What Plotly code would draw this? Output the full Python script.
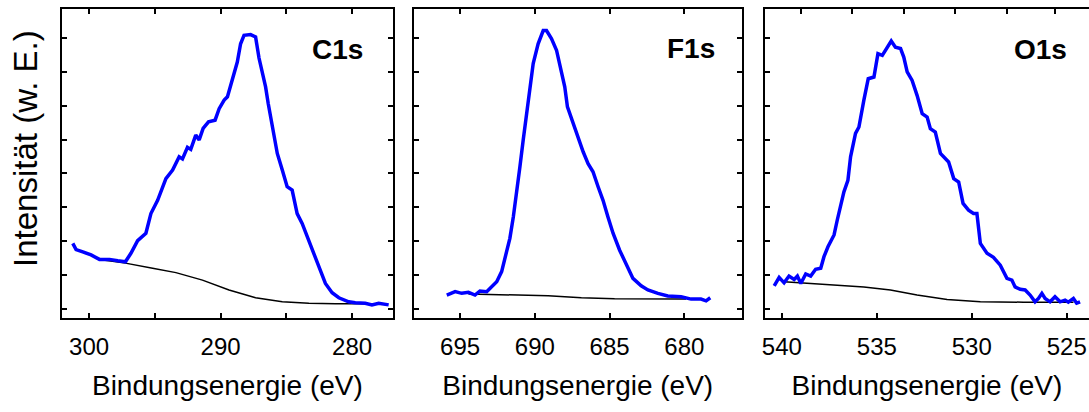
import plotly.graph_objects as go

# ---------------- data (binding energy eV, intensity arb. units) ----------------
c1s_x = [301.24, 300.99, 300.48, 299.85, 299.21, 298.45, 297.82, 297.24, 296.82, 296.31,
         295.68, 295.30, 294.79, 294.16, 293.65, 293.15, 292.90, 292.52, 292.27, 291.89,
         291.63, 291.33, 290.92, 290.42, 290.11, 289.73, 289.48, 289.23, 288.98, 288.73,
         288.48, 288.22, 287.72, 287.34, 287.08, 286.83, 286.58, 286.38, 286.07, 285.69,
         285.31, 284.94, 284.56, 284.18, 283.80, 283.29, 282.91, 282.53, 282.03, 281.52,
         281.01, 280.26, 279.76, 279.00, 278.49, 277.98, 277.22]
c1s_y = [1.94, 1.76, 1.69, 1.60, 1.47, 1.47, 1.43, 1.40, 1.65, 2.02,
         2.24, 2.82, 3.21, 3.85, 4.10, 4.49, 4.43, 4.77, 4.71, 5.13,
         4.99, 5.33, 5.52, 5.57, 5.91, 6.16, 6.26, 6.60, 6.89, 7.28,
         7.82, 8.07, 8.09, 8.02, 7.40, 6.99, 6.55, 6.06, 5.37, 4.59,
         4.10, 3.61, 3.51, 2.82, 2.53, 2.04, 1.65, 1.25, 0.76, 0.49,
         0.34, 0.22, 0.19, 0.18, 0.13, 0.18, 0.13]
c1s_bg_x = [299.21, 297.24, 295.17, 293.40, 291.38, 289.36, 287.34, 285.31, 283.29, 281.27, 278.49]
c1s_bg_y = [1.47, 1.36, 1.21, 1.08, 0.86, 0.57, 0.34, 0.22, 0.18, 0.16, 0.16]

f1s_x = [695.89, 695.33, 694.89, 694.44, 694.00, 693.67, 693.22, 692.89, 692.55, 692.22,
         691.89, 691.67, 691.44, 691.22, 691.00, 690.78, 690.55, 690.40, 690.11, 689.78,
         689.44, 689.22, 688.89, 688.55, 688.22, 688.00, 687.82, 687.44, 687.11, 686.77,
         686.44, 686.11, 685.77, 685.44, 685.11, 684.77, 684.33, 683.89, 683.44, 682.89,
         682.44, 681.77, 681.11, 680.22, 679.55, 678.89, 678.55, 678.27]
f1s_y = [0.42, 0.52, 0.47, 0.50, 0.42, 0.54, 0.52, 0.66, 0.81, 1.11,
         1.65, 2.09, 2.72, 3.41, 4.19, 4.98, 5.76, 6.45, 7.24, 7.82,
         8.21, 8.21, 7.97, 7.63, 6.94, 6.55, 5.96, 5.47, 5.08, 4.64,
         4.29, 4.05, 3.61, 3.21, 2.72, 2.24, 1.74, 1.30, 0.91, 0.69,
         0.57, 0.47, 0.39, 0.37, 0.30, 0.30, 0.25, 0.34]
f1s_bg_x = [694.44, 689.11, 686.89, 684.67, 680.22, 679.89]
f1s_bg_y = [0.45, 0.40, 0.34, 0.31, 0.30, 0.30]

o1s_x = [540.40, 540.14, 539.88, 539.62, 539.35, 539.18, 539.00, 538.74, 538.48, 538.22,
         537.95, 537.78, 537.57, 537.25, 537.08, 536.90, 536.73, 536.52, 536.38, 536.12,
         535.94, 535.68, 535.45, 535.15, 534.94, 534.71, 534.45, 534.24, 534.02, 533.75,
         533.58, 533.40, 533.14, 532.88, 532.61, 532.35, 532.18, 531.92, 531.65, 531.39,
         531.22, 530.95, 530.69, 530.46, 530.17, 529.91, 529.73, 529.55, 529.20, 528.86,
         528.50, 528.15, 527.89, 527.72, 527.45, 527.19, 526.93, 526.67, 526.49, 526.31,
         526.14, 525.88, 525.62, 525.35, 525.09, 524.92, 524.65, 524.48, 524.30]
o1s_y = [0.69, 0.94, 0.78, 0.98, 0.88, 0.98, 0.76, 1.04, 0.98, 1.18,
         1.21, 1.55, 1.84, 2.19, 2.63, 3.12, 3.46, 3.80, 4.49, 5.18,
         5.37, 6.16, 6.79, 6.84, 7.53, 7.48, 7.72, 7.90, 7.72, 7.68,
         7.43, 6.99, 6.74, 6.30, 5.76, 5.66, 5.32, 5.22, 4.59, 4.44,
         4.34, 3.85, 3.75, 3.12, 2.92, 2.82, 2.82, 1.94, 1.65, 1.53,
         1.30, 0.91, 0.86, 0.66, 0.59, 0.57, 0.42, 0.22, 0.32, 0.47,
         0.32, 0.22, 0.37, 0.22, 0.27, 0.21, 0.32, 0.18, 0.22]
o1s_bg_x = [539.88, 537.78, 535.68, 534.28, 532.88, 531.30, 529.55, 527.28, 524.65]
o1s_bg_y = [0.81, 0.74, 0.66, 0.57, 0.42, 0.29, 0.22, 0.21, 0.21]

panel_labels = ["C1s", "F1s", "O1s"]
x_title = "Bindungsenergie (eV)"
y_title = "Intensität (w. E.)"

c1s_ticks = [300, 295, 290, 285, 280]
c1s_ticktext = ["300", "", "290", "", "280"]
f1s_ticks = [695, 690, 685, 680]
f1s_ticktext = ["695", "690", "685", "680"]
o1s_ticks = [540, 535, 530, 525]
o1s_ticktext = ["540", "535", "530", "525"]
o1s_top_ticks = [539.0, 536.33, 533.58, 530.87, 528.15, 525.62]
y_ticks = [0, 1, 2, 3, 4, 5, 6, 7, 8]

# ---------------- figure ----------------
W, H = 1089, 412
FONT = "Liberation Sans, Arial, sans-serif"
BLUE = "#0000ff"

fig = go.Figure()

series = [
    (c1s_x, c1s_y, c1s_bg_x, c1s_bg_y, "x", "y"),
    (f1s_x, f1s_y, f1s_bg_x, f1s_bg_y, "x2", "y2"),
    (o1s_x, o1s_y, o1s_bg_x, o1s_bg_y, "x3", "y3"),
]
for sx, sy, bx, by, xa, ya in series:
    fig.add_trace(go.Scatter(x=bx, y=by, mode="lines", xaxis=xa, yaxis=ya,
                             line=dict(color="black", width=1.5), showlegend=False))
    fig.add_trace(go.Scatter(x=sx, y=sy, mode="lines", xaxis=xa, yaxis=ya,
                             line=dict(color=BLUE, width=3.5), showlegend=False))
# helper trace to carry the extra top axis of panel 3
fig.add_trace(go.Scatter(x=[], y=[], mode="lines", xaxis="x4", yaxis="y3", showlegend=False))

ydom = [1 - 318.3 / H, 1 - 9.3 / H]
xdoms = [[59.3 / W, 390.7 / W], [411.7 / W, 741 / W], [764 / W, 1.0]]
xranges = [[302.05, 276.92], [698.11, 676.15], [540.89, 523.83]]
xticks = [(c1s_ticks, c1s_ticktext), (f1s_ticks, f1s_ticktext), (o1s_ticks, o1s_ticktext)]
yrange = [-0.265, 8.835]

axis_common = dict(showline=True, linecolor="black", linewidth=2, ticks="inside",
                   ticklen=5, tickwidth=1.5, tickcolor="black", showgrid=False,
                   zeroline=False)

layout = dict(width=W, height=H, margin=dict(l=0, r=0, t=0, b=0),
              paper_bgcolor="white", plot_bgcolor="white",
              font=dict(family=FONT, color="black"))

for i in range(3):
    sfx = "" if i == 0 else str(i + 1)
    tv, tt = xticks[i]
    layout["xaxis" + sfx] = dict(
        domain=xdoms[i], range=xranges[i], anchor="y" + sfx,
        tickvals=tv, ticktext=tt, mirror=("ticks" if i < 2 else True),
        tickfont=dict(size=24, family=FONT), ticklabelstandoff=6,
        title=dict(text=x_title, font=dict(size=28, family=FONT), standoff=16),
        **axis_common)
    layout["yaxis" + sfx] = dict(
        domain=ydom, range=yrange, anchor="x" + sfx, tickvals=y_ticks,
        showticklabels=False, mirror=("ticks" if i < 2 else False), **axis_common)

layout["xaxis4"] = dict(overlaying="x3", anchor="y3", side="top", range=xranges[2],
                        tickvals=o1s_top_ticks, showticklabels=False, ticks="inside",
                        ticklen=5, tickwidth=1.5, tickcolor="black", showline=False,
                        showgrid=False, zeroline=False)

fig.update_layout(**layout)

# panel labels
label_pos = [(362.7, 49.5), (716, 48.5), (1069.3, 49.5)]
for txt, (px, py) in zip(panel_labels, label_pos):
    fig.add_annotation(text="<b>%s</b>" % txt, xref="paper", yref="paper",
                       x=px / W, y=1 - py / H, xanchor="right", yanchor="middle",
                       showarrow=False, font=dict(size=28, family=FONT, color="black"))

# y axis title
fig.add_annotation(text=y_title, xref="paper", yref="paper", x=22 / W, y=1 - 148 / H,
                   xanchor="center", yanchor="middle", textangle=-90, showarrow=False,
                   font=dict(size=33, family=FONT, color="black"))

fig.write_html("out.html")
